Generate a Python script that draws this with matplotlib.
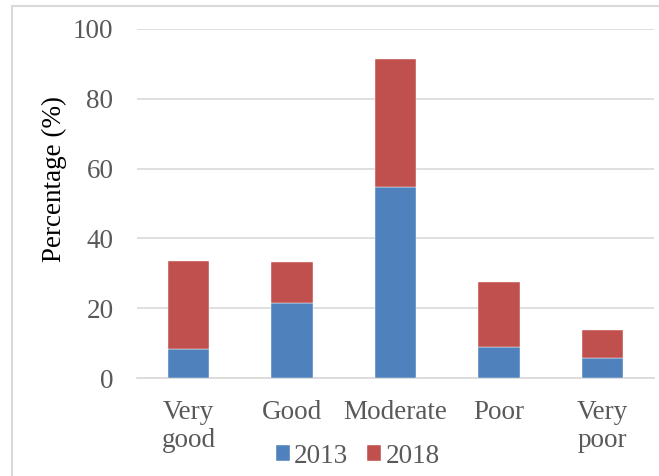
import numpy as np
import matplotlib.pyplot as plt
from matplotlib.patches import Rectangle

# data
categories = ["Very\ngood", "Good", "Moderate", "Poor", "Very\npoor"]
v2013 = [8.4, 21.6, 54.6, 8.9, 5.7]
v2018 = [25.0, 11.5, 36.8, 18.5, 8.1]
years = ["2013", "2018"]
yticks = [0, 20, 40, 60, 80, 100]

BLUE = "#4F81BD"
RED = "#C0504D"
GRID = "#D9D9D9"
TXT = "#595959"

plt.rcParams["font.family"] = ["Liberation Serif", "DejaVu Serif"]

fig = plt.figure(figsize=(6.59, 4.76), dpi=100)
ax = fig.add_axes([137 / 659, 1 - 378 / 476, 517 / 659, 349 / 476])

x = np.arange(len(categories))
ax.bar(x, v2013, width=0.4, color=BLUE, label=years[0], zorder=3,
       edgecolor="white", linewidth=0.3)
ax.bar(x, v2018, width=0.4, bottom=v2013, color=RED, label=years[1], zorder=3,
       edgecolor="white", linewidth=0.3)

ax.set_xlim(-0.5, len(categories) - 0.5)
ax.set_ylim(0, 100)
ax.set_yticks(yticks)
ax.set_xticks(x)
ax.set_xticklabels(categories, linespacing=1.15)
ax.tick_params(axis="both", length=0, labelsize=19.5, colors=TXT)
ax.tick_params(axis="y", pad=17)
ax.tick_params(axis="x", pad=16)

ax.grid(axis="y", color=GRID, linewidth=1.2, zorder=0)
for s in ["top", "right", "left"]:
    ax.spines[s].set_visible(False)
ax.spines["bottom"].set_color(GRID)
ax.spines["bottom"].set_linewidth(1.2)

ax.set_ylabel("Percentage (%)", fontsize=19.5, color="black", va="center")
ax.yaxis.set_label_coords(-0.16, 0.57)

fig.legend(loc="center", bbox_to_anchor=(0.543, 0.042), ncol=2, frameon=False,
           fontsize=19.5, handlelength=0.52, handleheight=0.52, handletextpad=0.15,
           columnspacing=0.7, labelcolor=TXT)

# outer chart border
fig.patches.append(Rectangle((12 / 659, -0.1), 1.1, 1 - 6 / 476 + 0.1,
                             transform=fig.transFigure, fill=False,
                             edgecolor=GRID, linewidth=1.5))

fig.savefig("out.png", dpi=100)
